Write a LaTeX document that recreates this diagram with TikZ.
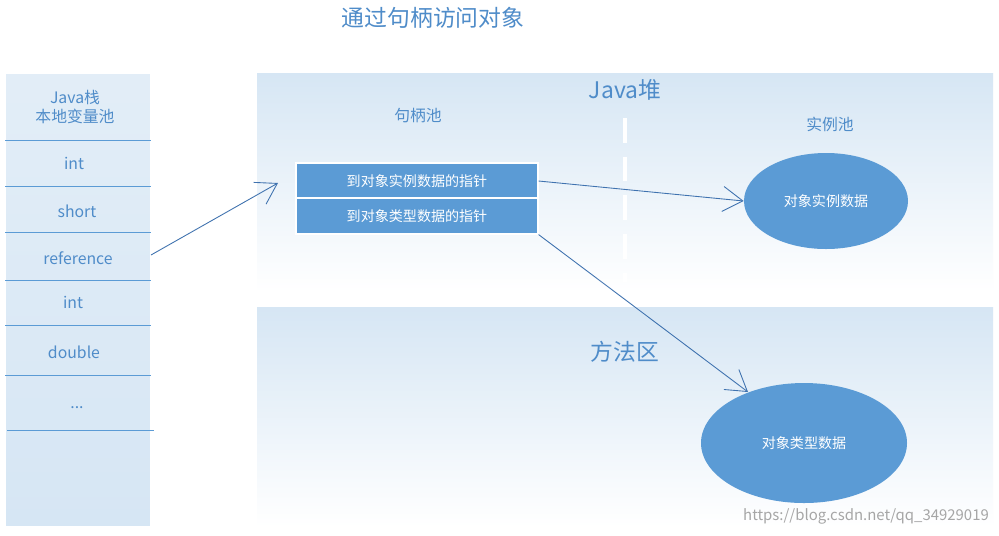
\documentclass[tikz,border=0pt]{standalone}
\usepackage{fontspec}
\setmainfont{Noto Sans CJK SC}
\usetikzlibrary{arrows.meta,shapes.geometric}
\definecolor{bl}{HTML}{5B9BD5}
\definecolor{txt}{HTML}{4F8CC9}
\definecolor{pale}{HTML}{D6E6F4}
\definecolor{ln}{HTML}{3F72AF}
\begin{document}
\begin{tikzpicture}[x=0.02cm,y=-0.02cm,
  lbl/.style={text=txt,font=\fontsize{9}{11}\selectfont},
  big/.style={text=txt,font=\fontsize{13}{15}\selectfont},
  hbox/.style={fill=bl,draw=white,line width=0.6pt,minimum width=242*0.02cm,minimum height=36*0.02cm,text=white,font=\fontsize{8}{10}\selectfont,inner sep=0pt},
  ell/.style={ellipse,fill=bl,text=white,font=\fontsize{8}{10}\selectfont,inner sep=0pt},
  conn/.style={draw=ln,line width=0.5pt,-{Straight Barb[length=4mm,width=5mm]}}]
\useasboundingbox (0,0) rectangle (999,535);
\fill[white] (0,0) rectangle (999,535);
\node[big] (title) at (433,18) {通过句柄访问对象};
% stack
\shade[top color=pale!70,bottom color=pale] (5,73) rectangle (151,527);
\draw[white,line width=0.6pt] (5,73) rectangle (151,527);
\node[lbl,align=center] (hdr) at (75,107) {Java栈\\本地变量池};
\foreach \yy in {140,186,232,280,325,375}{\draw[bl,line width=0.5pt] (5,\yy) -- (151,\yy);}
\draw[bl,line width=0.5pt] (7,430) -- (154,430);
\node[lbl] (i1) at (74,163) {int};
\node[lbl] (s1) at (77,211) {short};
\node[lbl] (ref) at (78,258) {reference};
\node[lbl] (i2) at (73,302) {int};
\node[lbl] (d1) at (74,352) {double};
\node[lbl] (dots) at (77,408) {...};
% heap
\shade[top color=pale,bottom color=white] (257,73) rectangle (993,292);
\node[big] (heap) at (625,90) {Java堆};
\node[lbl] (hp) at (418,116) {句柄池};
\node[lbl] (ip) at (830,124) {实例池};
\draw[white,line width=2.5pt,dash pattern=on 14pt off 8pt] (625,118) -- (625,282);
\node[hbox] (b1) at (417,181) {到对象实例数据的指针};
\node[hbox] (b2) at (417,216) {到对象类型数据的指针};
\node[ell,minimum width=164*0.02cm,minimum height=96*0.02cm] (e1) at (826,201) {对象实例数据};
% method area
\shade[top color=pale,bottom color=white] (257,307) rectangle (993,527);
\node[big] (ma) at (625,352) {方法区};
\node[ell,minimum width=206*0.02cm,minimum height=120*0.02cm] (e2) at (804,443) {对象类型数据};
% connectors
\coordinate (rr) at (151,255);
\coordinate (b1w) at (278,183);
\coordinate (e2t) at (748,392);
\draw[conn] (rr) -- (b1w);
\draw[conn] (b1.east) -- (e1.west);
\draw[conn] (b2.south east) -- (e2t);
\node[text=gray!70,font=\fontsize{8.5}{10}\selectfont] (wm) at (866,516) {https://blog.csdn.net/qq\_34929019};
\end{tikzpicture}
\end{document}
